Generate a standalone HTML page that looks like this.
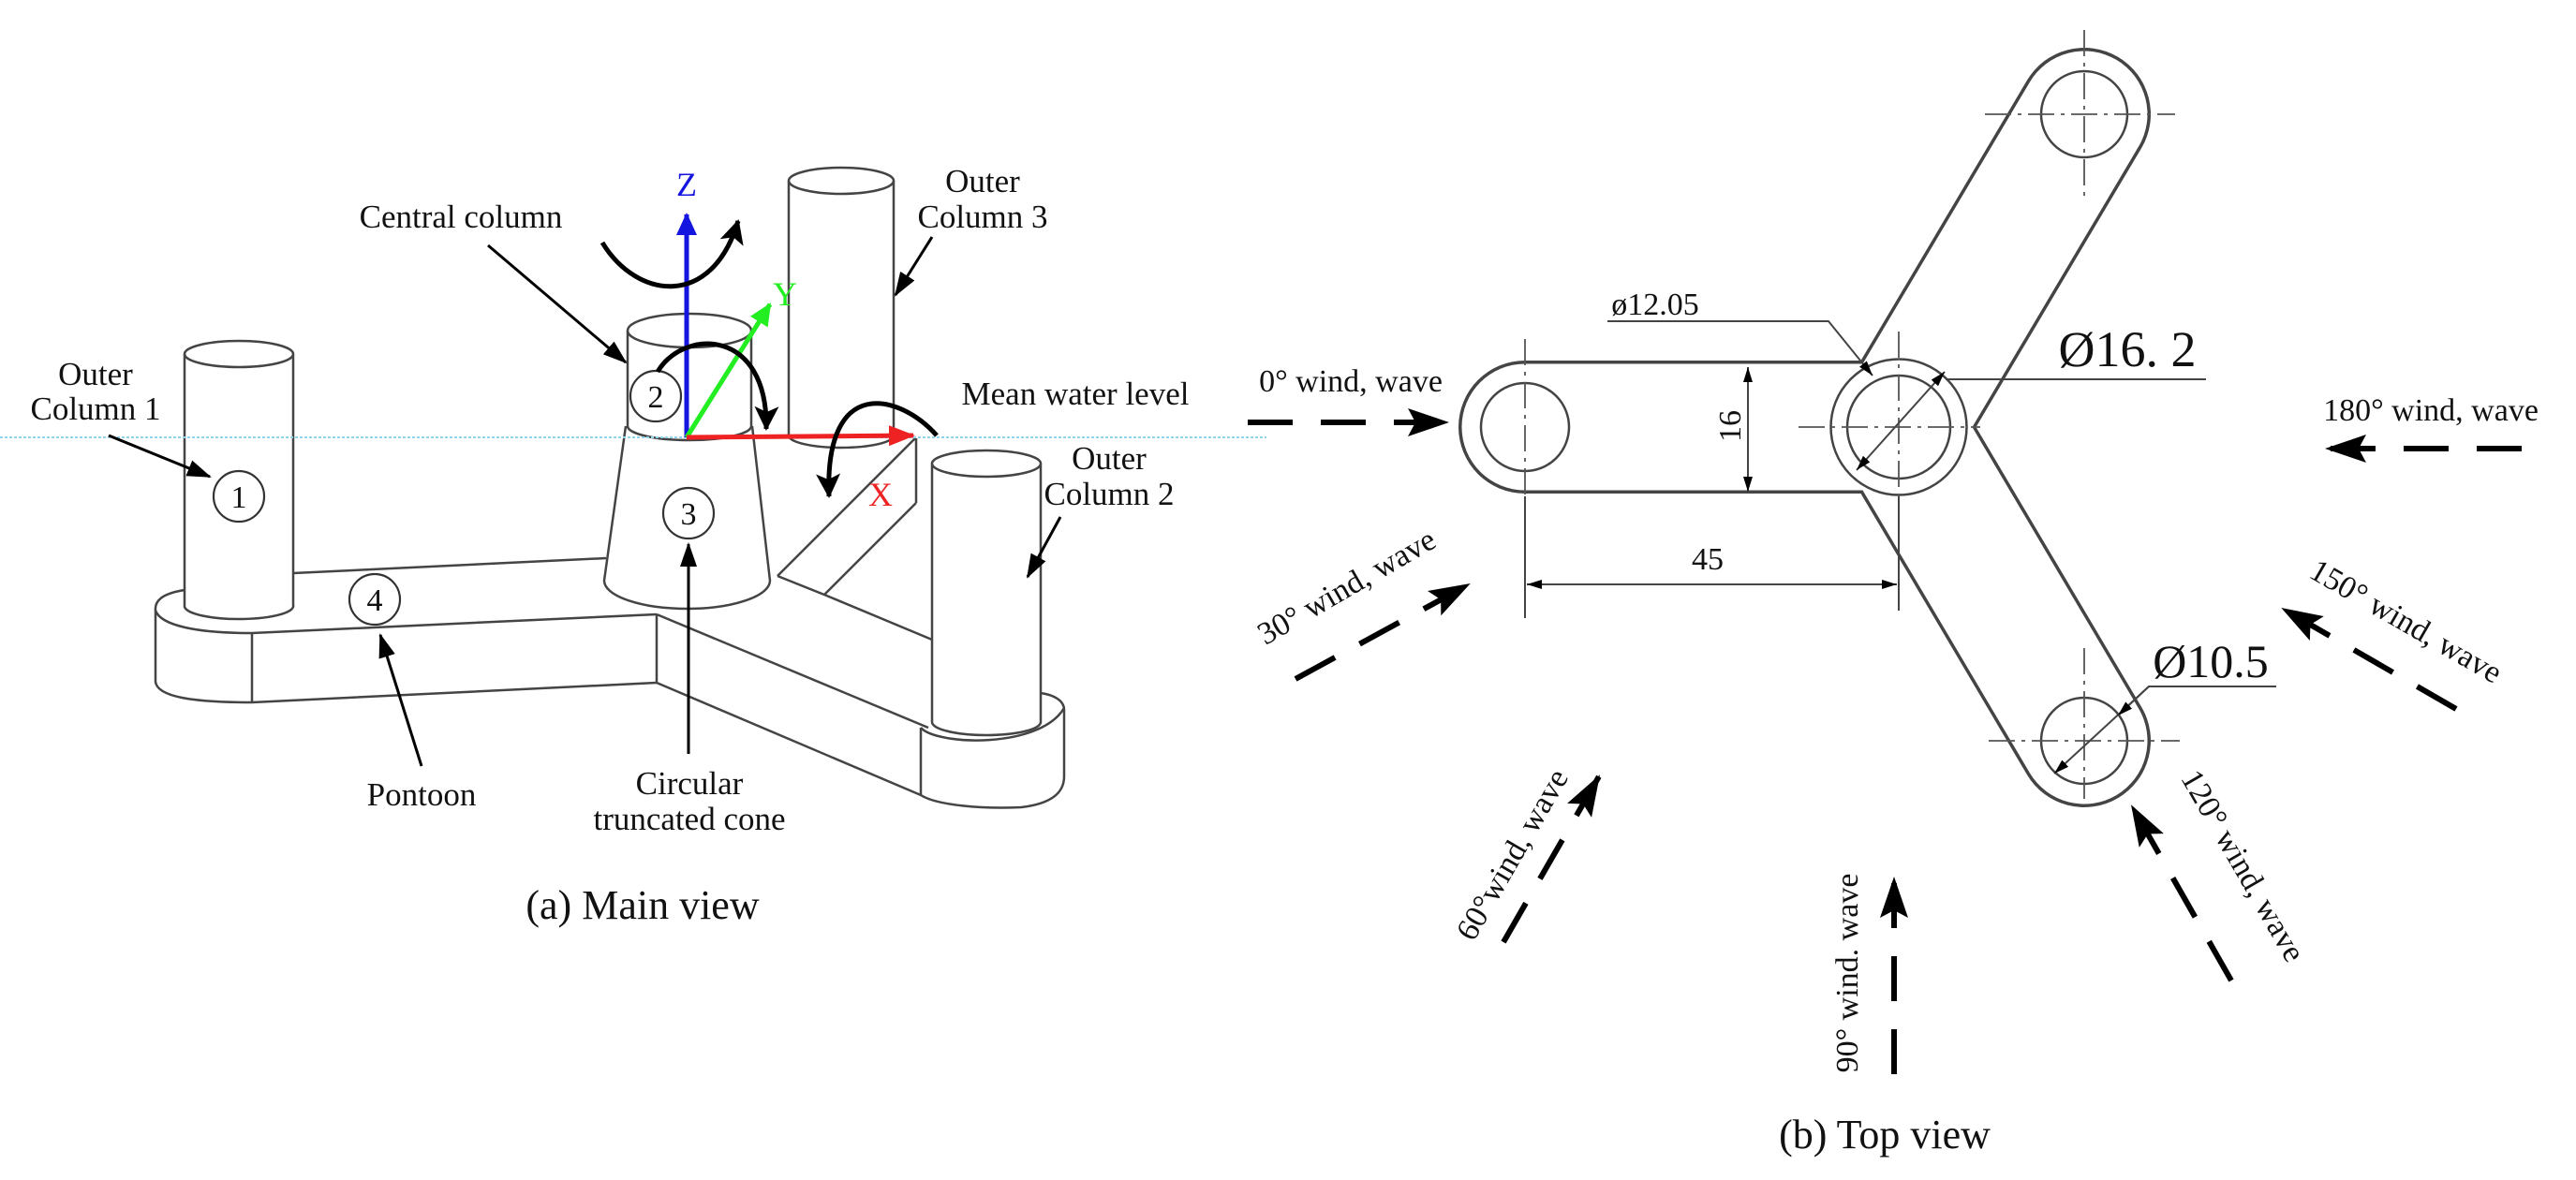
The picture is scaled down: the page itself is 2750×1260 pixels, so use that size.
<!DOCTYPE html>
<html><head><meta charset="utf-8"><style>
html,body{margin:0;padding:0;background:#fff}
svg{display:block}
text{font-family:"Liberation Serif",serif;fill:#111}
</style></head><body>
<svg width="2750" height="1260" viewBox="0 0 2750 1260" xmlns="http://www.w3.org/2000/svg">
<defs>
<marker id="ah" markerUnits="userSpaceOnUse" markerWidth="26" markerHeight="18" refX="24" refY="9" orient="auto"><path d="M0,0 L26,9 L0,18 z" fill="#000"/></marker>
<marker id="dh" markerUnits="userSpaceOnUse" markerWidth="16" markerHeight="10" refX="16" refY="5" orient="auto-start-reverse"><path d="M0,0 L16,5 L0,10 z" fill="#000"/></marker>
<marker id="wh" markerUnits="userSpaceOnUse" markerWidth="44" markerHeight="30" refX="42" refY="15" orient="auto"><path d="M0,0 L44,15 L0,30 L8,15 z" fill="#000"/></marker>
<marker id="cb" markerUnits="userSpaceOnUse" markerWidth="24" markerHeight="22" refX="22" refY="11" orient="auto"><path d="M0,0 L24,11 L0,22 z" fill="#1515e0"/></marker>
<marker id="cg" markerUnits="userSpaceOnUse" markerWidth="24" markerHeight="22" refX="22" refY="11" orient="auto"><path d="M0,0 L24,11 L0,22 z" fill="#22ee22"/></marker>
<marker id="cr" markerUnits="userSpaceOnUse" markerWidth="28" markerHeight="22" refX="26" refY="11" orient="auto"><path d="M0,0 L28,11 L0,22 z" fill="#ee2222"/></marker>
<marker id="rh" markerUnits="userSpaceOnUse" markerWidth="26" markerHeight="26" refX="24" refY="13" orient="auto"><path d="M0,0 L26,13 L0,26 L6,13 z" fill="#000"/></marker>
</defs>

<!-- ============ LEFT: MAIN VIEW ============ -->
<g fill="none" stroke="#444" stroke-width="2.5" stroke-linejoin="round">
  <!-- pontoon 1 -->
  <path d="M313,612 L647,596"/>
  <path d="M197,630 C172,634 165,642 166,652 L166,728 C168,744 205,750 269,750 L701,729"/>
  <path d="M166,652 C172,668 210,676 269,676 L701,656"/>
  <path d="M269,676 L269,750 M701,656 L701,729"/>
  <!-- pontoon 2 -->
  <path d="M701,656 L991,777"/>
  <path d="M701,729 L983,849 L983,777"/>
  <path d="M983,849 C1000,860 1050,864 1090,862 C1125,858 1136,845 1136,829 L1136,758 C1136,748 1125,742 1111,740"/>
  <path d="M983,777 C1000,796 1110,800 1136,756"/>
  <path d="M830,615 L880,635 L995,683"/>
  <!-- pontoon 3 -->
  <path d="M830,615 L977,468 M880,635 L978,537 M978,468 L978,537"/>
  <!-- cone -->
  <path d="M668,455 L645,620 A88.5,30 0 0 0 822,620 L803,455"/>
  <!-- central cylinder -->
  <path d="M670,353 L670,457 M802,353 L802,455"/>
  <ellipse cx="736" cy="353" rx="66" ry="18"/>
  <path d="M670,455 A66,15 0 0 0 802,455"/>
  <!-- column 1 -->
  <path d="M197,378 L197,648 A58,14 0 0 0 313,646 L313,378"/>
  <ellipse cx="255" cy="378" rx="58" ry="14"/>
  <!-- column 2 -->
  <path d="M995,495 L995,771 A58,14 0 0 0 1111,771 L1111,495" fill="#fff"/>
  <ellipse cx="1053" cy="495" rx="58" ry="14" fill="#fff"/>
  <!-- column 3 -->
  <path d="M842,193 L842,465 A56,13 0 0 0 954,465 L954,193"/>
  <ellipse cx="898" cy="193" rx="56" ry="14"/>
</g>
<!-- water line -->
<line x1="0" y1="467" x2="1352" y2="467" stroke="#8fd3ee" stroke-width="2" stroke-dasharray="3 2"/>

<!-- numbered circles -->
<g fill="#fff" stroke="#333" stroke-width="2.2">
  <circle cx="255" cy="530" r="27"/><circle cx="700" cy="423" r="27"/>
  <circle cx="735" cy="548" r="27"/><circle cx="400" cy="640" r="27"/>
</g>
<g font-size="34" text-anchor="middle">
  <text x="255" y="542">1</text><text x="700" y="435">2</text>
  <text x="735" y="560">3</text><text x="400" y="652">4</text>
</g>

<!-- axes -->
<line x1="733" y1="467" x2="733" y2="229" stroke="#1515e0" stroke-width="5" marker-end="url(#cb)"/>
<line x1="733" y1="467" x2="822" y2="325" stroke="#22ee22" stroke-width="5" marker-end="url(#cg)"/>
<line x1="733" y1="467" x2="975" y2="465" stroke="#ee2222" stroke-width="5" marker-end="url(#cr)"/>
<text x="733" y="209" font-size="36" text-anchor="middle" style="fill:#1515e0">Z</text>
<text x="838" y="326" font-size="36" text-anchor="middle" style="fill:#22ee22">Y</text>
<text x="940" y="540" font-size="36" text-anchor="middle" style="fill:#ee2222">X</text>

<!-- rotation arrows -->
<g fill="none" stroke="#000" stroke-width="5">
  <path d="M643,259 C680,320 760,330 788,236" marker-end="url(#rh)"/>
  <path d="M702,397 C730,350 820,350 818,458" marker-end="url(#rh)"/>
  <path d="M1000,465 C960,420 880,400 885,530" marker-end="url(#rh)"/>
</g>

<!-- label arrows -->
<g stroke="#000" stroke-width="3" fill="none">
  <line x1="116" y1="465" x2="224" y2="509" marker-end="url(#ah)"/>
  <line x1="521" y1="262" x2="668" y2="387" marker-end="url(#ah)"/>
  <line x1="995" y1="253" x2="956" y2="315" marker-end="url(#ah)"/>
  <line x1="1132" y1="552" x2="1097" y2="616" marker-end="url(#ah)"/>
  <line x1="450" y1="818" x2="406" y2="678" marker-end="url(#ah)"/>
  <line x1="735" y1="805" x2="735" y2="581" marker-end="url(#ah)"/>
</g>
<g font-size="35" text-anchor="middle">
  <text x="102" y="411">Outer</text><text x="102" y="448">Column 1</text>
  <text x="492" y="243">Central column</text>
  <text x="1049" y="205">Outer</text><text x="1049" y="243">Column 3</text>
  <text x="1148" y="432">Mean water level</text>
  <text x="1184" y="501">Outer</text><text x="1184" y="539">Column 2</text>
  <text x="450" y="860">Pontoon</text>
  <text x="736" y="848">Circular</text><text x="736" y="886">truncated cone</text>
  <text x="686" y="981" font-size="44">(a) Main view</text>
</g>

<!-- ============ RIGHT: TOP VIEW ============ -->
<g stroke="#444" stroke-width="5" fill="none" stroke-linecap="round">
  <line x1="1628" y1="456" x2="2027" y2="456" stroke-width="142"/>
  <line x1="2027" y1="456" x2="2225" y2="122" stroke-width="142"/>
  <line x1="2027" y1="456" x2="2225" y2="791" stroke-width="142"/>
</g>
<g stroke="#fff" fill="none" stroke-linecap="round">
  <line x1="1628" y1="456" x2="2027" y2="456" stroke-width="135"/>
  <line x1="2027" y1="456" x2="2225" y2="122" stroke-width="135"/>
  <line x1="2027" y1="456" x2="2225" y2="791" stroke-width="135"/>
</g>
<g fill="none" stroke="#444" stroke-width="2.5">
  <circle cx="1628" cy="456" r="47"/>
  <circle cx="2027" cy="456" r="72.5" fill="#fff"/>
  <circle cx="2027" cy="456" r="55"/>
  <circle cx="2225" cy="122" r="46"/>
  <circle cx="2225" cy="791" r="46"/>
</g>
<!-- centerlines -->
<g stroke="#555" stroke-width="1.8" stroke-dasharray="28 7 4 7" fill="none">
  <line x1="1628" y1="362" x2="1628" y2="530"/>
  <line x1="2027" y1="354" x2="2027" y2="540"/>
  <line x1="1920" y1="456" x2="2114" y2="456"/>
  <line x1="2225" y1="32" x2="2225" y2="213"/>
  <line x1="2119" y1="122" x2="2322" y2="122"/>
  <line x1="2225" y1="692" x2="2225" y2="853"/>
  <line x1="2123" y1="791" x2="2327" y2="791"/>
</g>
<g stroke="#444" stroke-width="2" fill="none">
  <line x1="1628" y1="530" x2="1628" y2="660"/>
  <line x1="2027" y1="530" x2="2027" y2="652"/>
  <line x1="1866" y1="392" x2="1866" y2="525" marker-start="url(#dh)" marker-end="url(#dh)"/>
  <line x1="1630" y1="624" x2="2025" y2="624" marker-start="url(#dh)" marker-end="url(#dh)"/>
  <path d="M1716,343 L1952,343 L1999,401" marker-end="url(#dh)"/>
  <line x1="2076" y1="397" x2="1982" y2="502" marker-start="url(#dh)" marker-end="url(#dh)"/>
  <line x1="2077" y1="405" x2="2355" y2="405"/>
  <path d="M2430,733 L2294,733 L2193,826" marker-end="url(#dh)"/>
  <line x1="2294" y1="733" x2="2261" y2="764" marker-end="url(#dh)"/>
</g>
<g font-size="34" text-anchor="middle">
  <text x="1846" y="455" transform="rotate(-90 1846 455)" dy="12">16</text>
  <text x="1823" y="608">45</text>
  <text x="1767" y="336">ø12.05</text>
  <text x="2271" y="391" font-size="54">Ø16. 2</text>
  <text x="2360" y="723" font-size="50">Ø10.5</text>
</g>

<!-- wind arrows -->
<g stroke="#000" stroke-width="6" fill="none" stroke-dasharray="48 30">
  <line x1="1332" y1="451" x2="1545" y2="451" marker-end="url(#wh)"/>
  <line x1="2692" y1="479" x2="2484" y2="479" marker-end="url(#wh)"/>
  <line x1="1383" y1="725" x2="1568" y2="624" marker-end="url(#wh)"/>
  <line x1="2622" y1="757" x2="2437" y2="650" marker-end="url(#wh)"/>
  <line x1="1605" y1="1006" x2="1707" y2="829" marker-end="url(#wh)"/>
  <line x1="2382" y1="1047" x2="2276" y2="861" marker-end="url(#wh)"/>
  <line x1="2022" y1="1147" x2="2022" y2="938" marker-end="url(#wh)"/>
</g>
<g font-size="34" text-anchor="middle">
  <text x="1442" y="418">0° wind, wave</text>
  <text x="2595" y="449">180° wind, wave</text>
  <text x="1443" y="636" transform="rotate(-30 1443 636)">30° wind, wave</text>
  <text x="2563" y="673" transform="rotate(30 2563 673)">150° wind, wave</text>
  <text x="1624" y="918" transform="rotate(-60 1624 918)">60°wind, wave</text>
  <text x="2385" y="930" transform="rotate(60 2385 930)">120° wind, wave</text>
  <text x="1983" y="1039" transform="rotate(-90 1983 1039)">90° wind. wave</text>
  <text x="2012" y="1226" font-size="44">(b) Top view</text>
</g>
</svg>
</body></html>
